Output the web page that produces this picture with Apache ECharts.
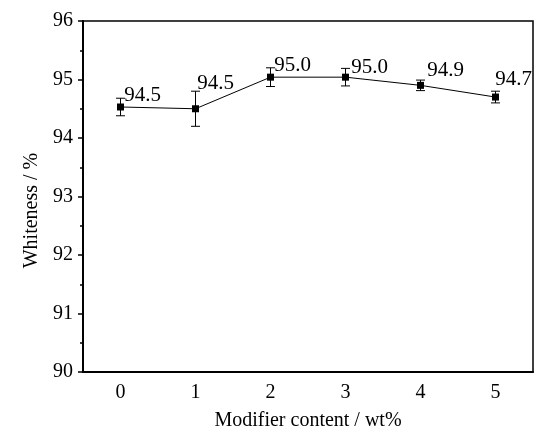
<!DOCTYPE html>
<html>
<head>
<meta charset="utf-8">
<script src="https://cdn.jsdelivr.net/npm/echarts@6/dist/echarts.min.js"></script>
<style>
  html, body { margin: 0; padding: 0; background: #fff; }
  #chart { width: 550px; height: 444px; }
</style>
</head>
<body>
<div id="chart"></div>
<script>
var categories = ["0", "1", "2", "3", "4", "5"];
var whiteness = [94.53, 94.50, 95.04, 95.04, 94.90, 94.70];
var errors = [0.15, 0.30, 0.16, 0.15, 0.09, 0.10];
var pointLabels = ["94.5", "94.5", "95.0", "95.0", "94.9", "94.7"];
var yTicks = [90, 91, 92, 93, 94, 95, 96];

// label offsets (px) relative to each point
var labelOffsets = [[22, -12], [20, -25], [22, -12], [24, -10], [25, -15], [18, -18]];

var font = "Liberation Serif";
var myChart = echarts.init(document.getElementById("chart"));

var option = {
  backgroundColor: "#fff",
  animation: false,
  grid: {
    left: 83,
    right: 17,
    top: 21,
    bottom: 72,
    show: true,
    borderColor: "#000",
    borderWidth: 1.5
  },
  xAxis: [
    {
      type: "category",
      data: categories,
      boundaryGap: true,
      name: "Modifier content / wt%",
      nameLocation: "middle",
      nameGap: 39,
      nameTextStyle: { fontFamily: font, fontSize: 20, color: "#000" },
      axisLine: { lineStyle: { color: "#000", width: 2 } },
      axisTick: { alignWithLabel: true, length: 5, lineStyle: { color: "#000", width: 1.5 } },
      axisLabel: { fontFamily: font, fontSize: 20, color: "#000", margin: 11 },
      splitLine: { show: false }
    },
    {
      // minor ticks between categories
      type: "category",
      data: categories,
      position: "bottom",
      boundaryGap: true,
      axisLine: { show: false },
      axisTick: { alignWithLabel: false, length: 3, lineStyle: { color: "#000", width: 1.5 } },
      axisLabel: { show: false },
      splitLine: { show: false }
    }
  ],
  yAxis: {
    type: "value",
    min: yTicks[0],
    max: yTicks[yTicks.length - 1],
    interval: 1,
    name: "Whiteness / %",
    nameLocation: "middle",
    nameGap: 38,
    nameTextStyle: { fontFamily: font, fontSize: 20, color: "#000", padding: [0, 28, 0, 0] },
    axisLine: { show: true, lineStyle: { color: "#000", width: 2 } },
    axisTick: { show: true, length: 5, lineStyle: { color: "#000", width: 1.5 } },
    minorTick: { show: true, splitNumber: 2, length: 3, lineStyle: { color: "#000", width: 1.5 } },
    axisLabel: { fontFamily: font, fontSize: 20, color: "#000", margin: 10 },
    splitLine: { show: false }
  },
  series: [
    {
      type: "custom",
      xAxisIndex: 0,
      data: whiteness.map(function (v, i) { return [i, v - errors[i], v + errors[i]]; }),
      renderItem: function (params, api) {
        var lo = api.coord([api.value(0), api.value(1)]);
        var hi = api.coord([api.value(0), api.value(2)]);
        var hw = 4.5;
        var style = { stroke: "#000", lineWidth: 1 };
        return {
          type: "group",
          children: [
            { type: "line", shape: { x1: lo[0], y1: lo[1], x2: hi[0], y2: hi[1] }, style: style },
            { type: "line", shape: { x1: lo[0] - hw, y1: lo[1], x2: lo[0] + hw, y2: lo[1] }, style: style },
            { type: "line", shape: { x1: hi[0] - hw, y1: hi[1], x2: hi[0] + hw, y2: hi[1] }, style: style }
          ]
        };
      },
      z: 2
    },
    {
      type: "line",
      xAxisIndex: 0,
      data: whiteness.map(function (v, i) {
        return {
          value: v,
          label: {
            show: true,
            position: "inside",
            offset: labelOffsets[i],
            formatter: pointLabels[i]
          }
        };
      }),
      symbol: "rect",
      symbolSize: 7,
      itemStyle: { color: "#000" },
      lineStyle: { color: "#000", width: 1 },
      label: { fontFamily: font, fontSize: 21, color: "#000" },
      z: 3
    }
  ]
};

myChart.setOption(option);
</script>
</body>
</html>
